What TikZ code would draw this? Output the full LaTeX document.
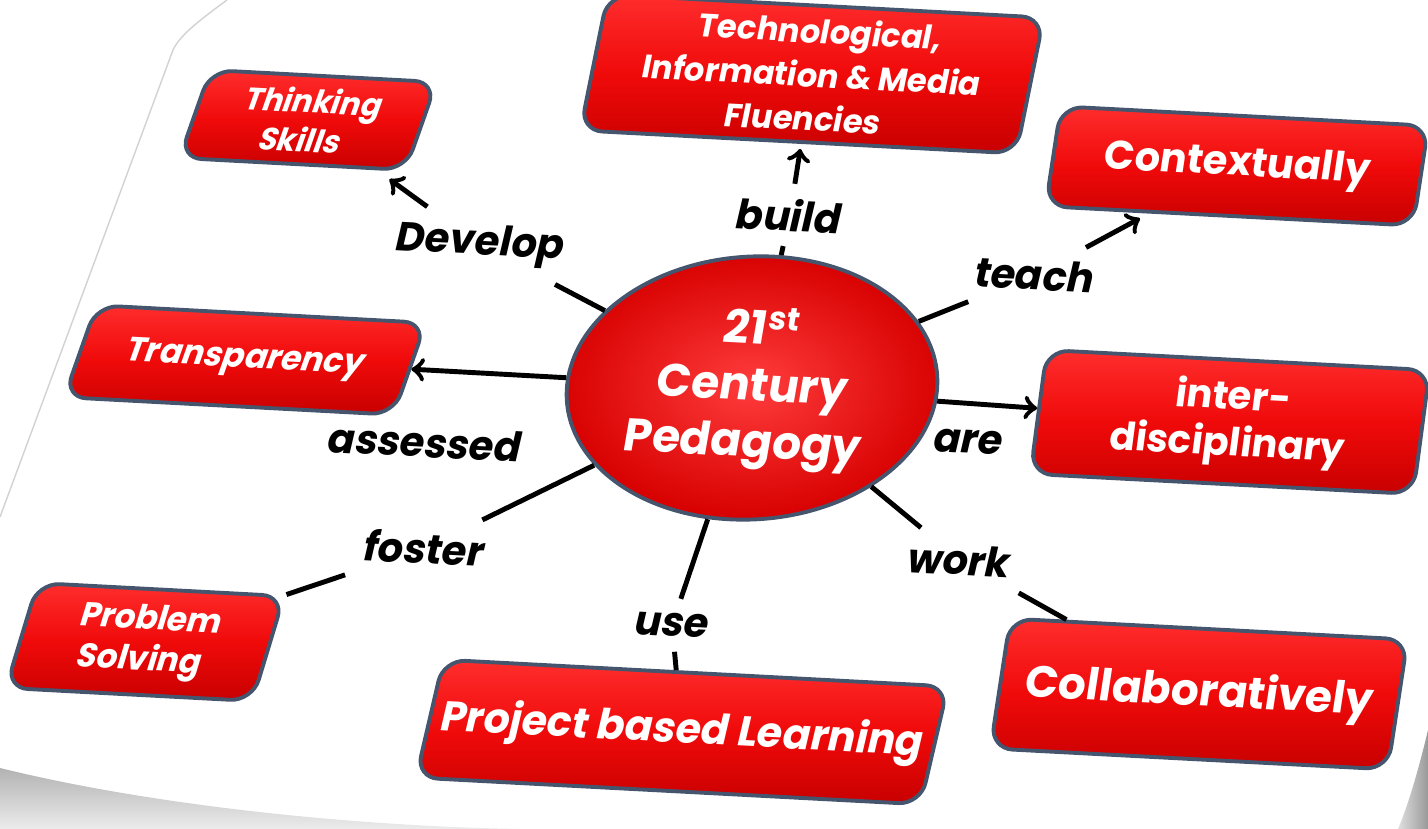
\documentclass[tikz,border=0pt]{standalone}
\usepackage{fontspec}
\setmainfont{Poppins}
\usetikzlibrary{shapes.geometric}
\usetikzlibrary{arrows}

\definecolor{boxline}{RGB}{70,85,110}
\definecolor{boxtop}{RGB}{255,45,45}
\definecolor{boxmid}{RGB}{240,10,10}
\definecolor{boxbot}{RGB}{200,0,0}
\definecolor{pedin}{RGB}{255,60,60}
\definecolor{pedout}{RGB}{215,0,0}

\begin{document}
\begin{tikzpicture}[x=0.1mm,y=-0.1mm,
  box/.style={draw=boxline, line width=1.1pt, rounded corners=2.2mm,
    top color=boxtop, bottom color=boxbot, middle color=boxmid,
    text=white, align=center, inner sep=1pt, xslant=#1, rotate=-3},
  word/.style={text=black, inner sep=4pt, xslant=0.18, rotate=-3,
    font=\bfseries\fontsize{11.5}{13}\selectfont},
  link/.style={line width=1.4pt}]
\useasboundingbox (0,0) rectangle (1428,829);
\clip (0,0) rectangle (1428,829);

% card edge and its shadow
\draw[gray!35, line width=0.4pt] (227,0) .. controls (200,20) and (180,35) .. (173,50) -- (0,517);
\shade[top color=gray!60, bottom color=gray!15] (0,768) .. controls (150,805) and (350,826) .. (520,829) -- (0,829) -- cycle;
\shade[left color=gray!25, right color=gray!80] (1428,730) .. controls (1416,780) and (1406,810) .. (1398,829) -- (1428,829) -- cycle;

% boxes
\node[box=0.3, minimum width=23mm, minimum height=8.8mm,
  font=\bfseries\fontsize{8.8}{11}\selectfont] (thinking) at (308,120) {Thinking\\Skills};
\node[box=0.15, minimum width=44mm, minimum height=13.6mm,
  font=\bfseries\fontsize{9.2}{12.4}\selectfont] (media) at (812,74) {Technological,\\Information \& Media\\Fluencies};
\node[box=0.1, minimum width=37mm, minimum height=10mm,
  font=\bfseries\fontsize{11.4}{13}\selectfont] (context) at (1237,166) {Contextually};
\node[box=0.3, minimum width=33.5mm, minimum height=9.2mm,
  font=\bfseries\fontsize{9.5}{11}\selectfont] (transp) at (245,360) {Transparency};
\node[box=0.08, minimum width=38.5mm, minimum height=12.4mm,
  font=\bfseries\fontsize{11}{13.2}\selectfont] (inter) at (1230,422) {inter-\\disciplinary};
\node[box=0.25, minimum width=25mm, minimum height=10.5mm,
  font=\bfseries\fontsize{9.4}{11.6}\selectfont] (problem) at (145,642) {Problem\\Solving};
\node[box=0.18, minimum width=51mm, minimum height=11.8mm,
  font=\bfseries\fontsize{11.8}{13}\selectfont] (project) at (682,732) {Project based Learning};
\node[box=0.1, minimum width=40mm, minimum height=13mm,
  font=\bfseries\fontsize{12.5}{14}\selectfont] (collab) at (1199,694) {Collaboratively};

% centre
\node[ellipse, draw=boxline, line width=1.1pt, inner color=pedin, outer color=pedout,
  minimum width=36.5mm, minimum height=26mm, text=white, align=center,
  font=\bfseries\fontsize{13}{16}\selectfont, xslant=0.12, rotate=-3]
  (ped) at (752,388) {21\textsuperscript{st}\\Century\\Pedagogy};

% verbs
\node[word] (develop) at (480,245) {Develop};
\node[word] (build) at (790,215) {build};
\node[word] (teach) at (1035,275) {teach};
\node[word] (foster) at (425,548) {foster};
\node[word] (work) at (960,560) {work};
\node[word] (use) at (672,625) {use};

% links
\draw[link] (ped) -- (develop);
\draw[link, ->, shorten >=1.5mm] (develop) -- (thinking);
\draw[link] (ped) -- (build);
\draw[link, ->, shorten >=0.5mm] (build) -- (media);
\draw[link] (ped) -- (teach);
\draw[link, ->, shorten >=1mm] (teach) -- (context);
\draw[link, ->] (ped) -- node[word, pos=0.8, below=4mm] (assessed) {assessed} (transp);
\draw[link, ->] (ped) -- node[word, pos=0.4, below=1mm] (are) {are} (inter);
\draw[link] (ped) -- (foster);
\draw[link] (foster) -- (problem);
\draw[link] (ped) -- (work);
\draw[link] (work) -- (collab);
\draw[link] (ped) -- (use);
\draw[link] (use) -- (project);
\end{tikzpicture}
\end{document}
